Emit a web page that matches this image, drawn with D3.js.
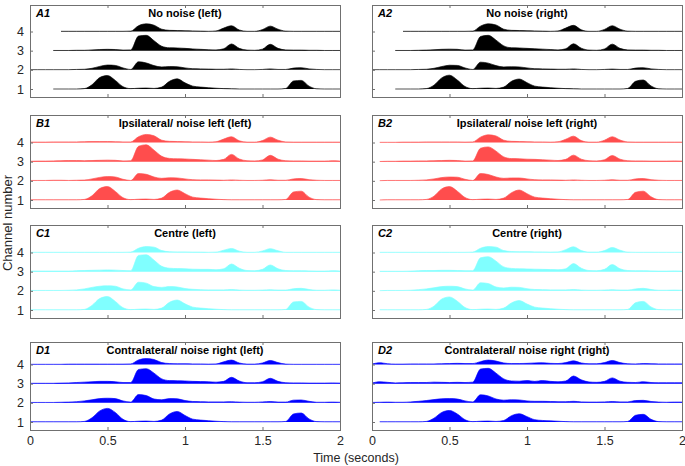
<!DOCTYPE html>
<html><head><meta charset="utf-8">
<script src="https://cdn.jsdelivr.net/npm/d3@7"></script>
<style>body{margin:0;background:#fff} svg{display:block} text{font-family:"Liberation Sans",Arial,sans-serif}</style>
</head><body><svg id="c" width="685" height="466"></svg>
<script>
const n = null;
const times = [0,0.05,0.1,0.15,0.2,0.25,0.3,0.35,0.4,0.45,0.5,0.55,0.6,0.65,0.7,0.75,0.8,0.85,0.9,0.95,1.0,1.05,1.1,1.15,1.2,1.25,1.3,1.35,1.4,1.45,1.5,1.55,1.6,1.65,1.7,1.75,1.8,1.85,1.9,1.95,2.0];
const channels = [1,2,3,4];
const channelLabels = ["1","2","3","4"];
const xTicks = [0,0.5,1,1.5,2];
const xTickLabels = ["0","0.5","1","1.5","2"];
const panelIds = ["A1","A2","B1","B2","C1","C2","D1","D2"];
const panelTitles = ["No noise (left)","No noise (right)","Ipsilateral/ noise left (left)","Ipsilateral/ noise left (right)","Centre (left)","Centre (right)","Contralateral/ noise right (left)","Contralateral/ noise right (right)"];
const panelColors = ["#000000","#000000","#ff4d4d","#ff4d4d","#80ffff","#80ffff","#0000ff","#0000ff"];

const A1_ch1 = [n,n,n,0,0,0,0,0.02,0.22,0.6,0.7,0.45,0.12,0.02,0.04,0.05,0.03,0.1,0.4,0.53,0.32,0.15,0.1,0.07,0.04,0.02,0.01,0,0,0,0,0,0,0.03,0.42,0.45,0.15,0.01,0,0,0];
const A1_ch2 = [0.01,0.01,0.01,0.01,0.01,0.01,0.02,0.03,0.08,0.18,0.25,0.23,0.1,0.02,0.42,0.36,0.22,0.15,0.17,0.16,0.1,0.06,0.05,0.04,0.03,0.03,0.05,0.02,0.01,0.01,0.02,0.05,0.02,0.02,0.09,0.11,0.05,0.02,0.01,0.01,0.01];
const A1_ch3 = [n,n,n,0.01,0.01,0.01,0.02,0.02,0.04,0.06,0.07,0.06,0.03,0.04,0.76,0.8,0.52,0.23,0.15,0.14,0.12,0.09,0.07,0.05,0.04,0.1,0.35,0.12,0.03,0.02,0.08,0.33,0.12,0.04,0.03,0.03,0.02,0.02,0.01,0.01,0.01];
const A1_ch4 = [n,n,n,n,0.01,0.01,0.01,0.01,0.01,0.01,0.01,0.01,0.01,0.02,0.3,0.4,0.33,0.12,0.06,0.05,0.04,0.03,0.02,0.01,0.03,0.18,0.3,0.08,0.01,0.01,0.1,0.28,0.12,0.02,0.01,0.01,0.01,0.01,0.01,0.01,0.01];

const A2_ch1 = [n,n,n,0,0,0,0,0.02,0.2,0.58,0.72,0.47,0.13,0.02,0.04,0.05,0.03,0.1,0.4,0.52,0.33,0.15,0.1,0.07,0.04,0.02,0.01,0,0,0,0,0,0,0.03,0.4,0.47,0.16,0.01,0,0,0];
const A2_ch2 = [0.01,0.01,0.01,0.01,0.01,0.01,0.02,0.03,0.08,0.17,0.24,0.23,0.1,0.02,0.4,0.35,0.22,0.15,0.16,0.15,0.1,0.06,0.05,0.04,0.03,0.03,0.05,0.02,0.01,0.01,0.02,0.04,0.02,0.02,0.09,0.11,0.05,0.02,0.01,0.01,0.01];
const A2_ch3 = [n,n,n,0.01,0.01,0.01,0.02,0.03,0.05,0.07,0.08,0.07,0.03,0.04,0.74,0.8,0.55,0.25,0.15,0.14,0.12,0.1,0.08,0.06,0.04,0.1,0.36,0.13,0.03,0.02,0.09,0.34,0.12,0.04,0.03,0.03,0.02,0.02,0.01,0.01,0.01];
const A2_ch4 = [n,n,n,n,0.01,0.01,0.01,0.01,0.01,0.01,0.01,0.01,0.01,0.02,0.28,0.4,0.34,0.12,0.06,0.05,0.04,0.03,0.02,0.01,0.03,0.18,0.32,0.09,0.01,0.01,0.11,0.3,0.12,0.02,0.01,0.01,0.01,0.01,0.01,0.01,0.01];

const B1_ch1 = [0.01,0.01,0.01,0.01,0.01,0.01,0.01,0.03,0.22,0.6,0.7,0.45,0.12,0.02,0.04,0.05,0.03,0.1,0.4,0.52,0.33,0.15,0.1,0.07,0.04,0.02,0.01,0.01,0.01,0.01,0.01,0.01,0.01,0.03,0.42,0.46,0.15,0.02,0.01,0.01,0.01];
const B1_ch2 = [0.02,0.02,0.02,0.03,0.03,0.02,0.03,0.04,0.1,0.18,0.22,0.2,0.08,0.02,0.38,0.34,0.2,0.13,0.16,0.15,0.1,0.06,0.05,0.05,0.04,0.03,0.05,0.03,0.02,0.02,0.03,0.06,0.03,0.03,0.1,0.12,0.06,0.03,0.02,0.02,0.02];
const B1_ch3 = [0.02,0.03,0.03,0.04,0.05,0.06,0.06,0.05,0.06,0.07,0.08,0.07,0.04,0.05,0.8,0.88,0.6,0.28,0.17,0.15,0.14,0.12,0.1,0.08,0.06,0.12,0.38,0.14,0.05,0.04,0.09,0.33,0.13,0.05,0.04,0.04,0.03,0.03,0.03,0.05,0.03];
const B1_ch4 = [0.02,0.02,0.02,0.03,0.03,0.03,0.03,0.04,0.05,0.05,0.05,0.04,0.03,0.03,0.3,0.42,0.35,0.12,0.06,0.05,0.04,0.03,0.03,0.02,0.04,0.18,0.3,0.09,0.02,0.02,0.1,0.28,0.12,0.03,0.02,0.02,0.02,0.02,0.02,0.02,0.02];

const B2_ch1 = [n,0,0.01,0.01,0.01,0.01,0.01,0.03,0.2,0.58,0.7,0.46,0.13,0.02,0.04,0.05,0.03,0.1,0.38,0.52,0.33,0.15,0.1,0.07,0.04,0.02,0.01,0.01,0.01,0.01,0.01,0.01,0.01,0.03,0.4,0.46,0.17,0.02,0.01,0.01,0.01];
const B2_ch2 = [n,0.01,0.02,0.02,0.02,0.02,0.03,0.05,0.1,0.17,0.2,0.19,0.08,0.02,0.38,0.33,0.2,0.13,0.15,0.15,0.1,0.06,0.05,0.05,0.04,0.03,0.05,0.03,0.02,0.02,0.03,0.06,0.03,0.03,0.1,0.12,0.06,0.03,0.02,0.02,0.02];
const B2_ch3 = [n,0.01,0.02,0.02,0.03,0.03,0.04,0.04,0.05,0.06,0.07,0.06,0.03,0.04,0.7,0.77,0.55,0.25,0.16,0.15,0.13,0.12,0.1,0.08,0.06,0.12,0.34,0.13,0.05,0.04,0.1,0.32,0.13,0.05,0.04,0.04,0.03,0.03,0.03,0.04,0.03];
const B2_ch4 = [n,0.01,0.01,0.01,0.02,0.02,0.02,0.03,0.03,0.03,0.03,0.03,0.02,0.03,0.28,0.4,0.34,0.12,0.06,0.05,0.04,0.03,0.03,0.02,0.04,0.17,0.33,0.1,0.02,0.02,0.12,0.3,0.13,0.03,0.02,0.02,0.02,0.02,0.02,0.02,0.02];

const C1_ch1 = [0.01,0.01,0.01,0.01,0.01,0.01,0.01,0.03,0.24,0.6,0.7,0.45,0.12,0.02,0.04,0.05,0.03,0.1,0.4,0.52,0.32,0.15,0.1,0.07,0.04,0.02,0.01,0.01,0.01,0.01,0.01,0.01,0.01,0.03,0.42,0.45,0.15,0.02,0.01,0.01,0.01];
const C1_ch2 = [0.02,0.02,0.02,0.02,0.02,0.03,0.05,0.1,0.18,0.24,0.26,0.24,0.1,0.05,0.45,0.4,0.22,0.18,0.22,0.2,0.12,0.08,0.06,0.05,0.05,0.05,0.07,0.04,0.03,0.03,0.04,0.06,0.04,0.04,0.11,0.13,0.07,0.03,0.03,0.05,0.03];
const C1_ch3 = [0.03,0.03,0.03,0.03,0.03,0.03,0.05,0.06,0.07,0.08,0.09,0.08,0.06,0.05,0.85,0.88,0.6,0.28,0.18,0.16,0.15,0.13,0.12,0.12,0.1,0.15,0.4,0.18,0.06,0.05,0.12,0.35,0.15,0.06,0.05,0.05,0.04,0.03,0.03,0.05,0.03];
const C1_ch4 = [0.01,0.01,0.01,0.01,0.01,0.01,0.01,0.01,0.01,0.01,0.01,0.01,0.01,0.02,0.22,0.31,0.28,0.1,0.04,0.03,0.03,0.02,0.02,0.01,0.02,0.12,0.21,0.07,0.01,0.01,0.08,0.2,0.09,0.01,0.01,0.01,0.01,0.01,0.01,0.01,0.01];

const C2_ch1 = [n,0.01,0.01,0.01,0.01,0.01,0.01,0.03,0.2,0.57,0.68,0.46,0.13,0.02,0.04,0.05,0.03,0.1,0.37,0.49,0.31,0.15,0.1,0.07,0.04,0.02,0.01,0.01,0.01,0.01,0.01,0.01,0.01,0.03,0.38,0.45,0.16,0.02,0.01,0.01,0.01];
const C2_ch2 = [n,0.01,0.02,0.02,0.02,0.03,0.06,0.1,0.16,0.22,0.24,0.22,0.1,0.04,0.42,0.38,0.2,0.15,0.19,0.18,0.11,0.07,0.06,0.05,0.05,0.05,0.07,0.04,0.03,0.03,0.04,0.06,0.04,0.04,0.1,0.13,0.07,0.03,0.03,0.04,0.03];
const C2_ch3 = [n,0.02,0.02,0.02,0.02,0.03,0.05,0.06,0.06,0.07,0.07,0.06,0.05,0.05,0.72,0.78,0.55,0.25,0.17,0.15,0.14,0.13,0.12,0.11,0.1,0.15,0.42,0.18,0.06,0.05,0.12,0.37,0.15,0.06,0.05,0.05,0.04,0.03,0.03,0.04,0.03];
const C2_ch4 = [n,0.01,0.01,0.01,0.01,0.01,0.01,0.01,0.01,0.01,0.01,0.01,0.01,0.02,0.22,0.31,0.28,0.1,0.05,0.04,0.04,0.03,0.03,0.02,0.03,0.15,0.3,0.1,0.02,0.02,0.1,0.26,0.12,0.02,0.01,0.01,0.01,0.01,0.01,0.01,0.01];

const D1_ch1 = [0.01,0.01,0.01,0.01,0.01,0.01,0.01,0.03,0.22,0.58,0.71,0.5,0.14,0.02,0.04,0.05,0.03,0.1,0.42,0.55,0.34,0.15,0.1,0.07,0.04,0.02,0.01,0.01,0.01,0.01,0.01,0.01,0.01,0.03,0.42,0.47,0.16,0.02,0.01,0.01,0.01];
const D1_ch2 = [0.02,0.02,0.02,0.02,0.03,0.04,0.06,0.1,0.16,0.22,0.24,0.22,0.1,0.04,0.43,0.38,0.2,0.16,0.22,0.21,0.12,0.07,0.06,0.05,0.05,0.05,0.06,0.04,0.03,0.03,0.05,0.07,0.04,0.04,0.14,0.15,0.08,0.03,0.03,0.04,0.03];
const D1_ch3 = [0.02,0.02,0.02,0.02,0.03,0.04,0.06,0.08,0.1,0.12,0.12,0.1,0.06,0.06,0.74,0.78,0.55,0.25,0.16,0.15,0.14,0.12,0.11,0.1,0.08,0.12,0.33,0.14,0.05,0.05,0.1,0.28,0.12,0.05,0.04,0.04,0.03,0.03,0.03,0.04,0.03];
const D1_ch4 = [0.01,0.01,0.01,0.01,0.01,0.02,0.02,0.02,0.02,0.02,0.02,0.02,0.02,0.03,0.24,0.31,0.26,0.1,0.05,0.04,0.04,0.03,0.03,0.02,0.03,0.14,0.23,0.08,0.02,0.02,0.08,0.21,0.1,0.02,0.01,0.01,0.01,0.01,0.01,0.01,0.01];

const D2_ch1 = [n,0.01,0.01,0.01,0.01,0.01,0.01,0.03,0.2,0.5,0.6,0.42,0.12,0.02,0.04,0.05,0.03,0.08,0.33,0.43,0.28,0.12,0.08,0.06,0.04,0.02,0.01,0.01,0.01,0.01,0.01,0.01,0.01,0.03,0.35,0.4,0.14,0.02,0.01,0.01,0.01];
const D2_ch2 = [0.02,0.03,0.04,0.03,0.03,0.05,0.08,0.12,0.17,0.21,0.22,0.2,0.1,0.05,0.42,0.36,0.2,0.14,0.16,0.15,0.1,0.08,0.08,0.07,0.06,0.06,0.08,0.05,0.04,0.04,0.05,0.07,0.05,0.05,0.12,0.13,0.07,0.04,0.03,0.04,0.04];
const D2_ch3 = [0.03,0.1,0.07,0.04,0.05,0.06,0.06,0.06,0.08,0.07,0.06,0.07,0.06,0.08,0.76,0.8,0.55,0.25,0.14,0.13,0.16,0.12,0.16,0.12,0.1,0.14,0.4,0.2,0.09,0.07,0.12,0.3,0.13,0.07,0.06,0.1,0.06,0.05,0.05,0.05,0.05];
const D2_ch4 = [0.02,0.09,0.04,0.02,0.02,0.03,0.03,0.03,0.03,0.04,0.05,0.06,0.05,0.05,0.15,0.23,0.18,0.08,0.05,0.05,0.06,0.08,0.09,0.06,0.05,0.1,0.19,0.08,0.04,0.04,0.1,0.21,0.1,0.04,0.03,0.05,0.04,0.03,0.03,0.03,0.03];

const panelSeries = [
  [A1_ch1,A1_ch2,A1_ch3,A1_ch4],[A2_ch1,A2_ch2,A2_ch3,A2_ch4],
  [B1_ch1,B1_ch2,B1_ch3,B1_ch4],[B2_ch1,B2_ch2,B2_ch3,B2_ch4],
  [C1_ch1,C1_ch2,C1_ch3,C1_ch4],[C2_ch1,C2_ch2,C2_ch3,C2_ch4],
  [D1_ch1,D1_ch2,D1_ch3,D1_ch4],[D2_ch1,D2_ch2,D2_ch3,D2_ch4]
];
panelSeries.forEach((p,i)=>p.forEach((s,j)=>{ if(s.length!==times.length) throw new Error(panelIds[i]+" ch"+(j+1)+" length "+s.length); }));

// layout
const colX = [[30,340],[372,682]];
const rowY = [[5,97],[115,208],[225,318],[342,430]];
const svg = d3.select("#c");
const frameColor = "#707070";
const textColor = "#262626";
const fontFam = '"Liberation Sans",Arial,sans-serif';

panelIds.forEach((id,pi)=>{
  const col = pi%2, row = Math.floor(pi/2);
  const [x0,x1] = colX[col], [yt,yb] = rowY[row];
  const x = d3.scaleLinear().domain([0,2]).range([x0,x1]);
  const y = d3.scaleLinear().domain([1,4]).range([yb-8,yb-8-57.5]);
  const g = svg.append("g");
  const clipId = "clip"+id;
  g.append("clipPath").attr("id",clipId).append("rect").attr("x",x0).attr("y",yt).attr("width",x1-x0).attr("height",yb-yt);
  const plot = g.append("g").attr("clip-path",`url(#${clipId})`);
  const color = panelColors[pi];
  channels.forEach((c,ci)=>{
    const data = times.map((t,k)=>({t, v: panelSeries[pi][ci][k]}));
    const area = d3.area().defined(d=>d.v!=null).x(d=>x(d.t)).y0(y(c)).y1(d=>y(c+d.v)).curve(d3.curveMonotoneX);
    const line = d3.line().defined(d=>d.v!=null).x(d=>x(d.t)).y(d=>y(c+d.v)).curve(d3.curveMonotoneX);
    plot.append("path").attr("d",area(data)).attr("fill",color);
    plot.append("path").attr("d",line(data)).attr("fill","none").attr("stroke",color).attr("stroke-width",0.8).attr("opacity",0.85);
  });
  // frame
  g.append("rect").attr("x",x0).attr("y",yt).attr("width",x1-x0).attr("height",yb-yt).attr("fill","none").attr("stroke",frameColor).attr("stroke-width",1).attr("shape-rendering","crispEdges");
  // ticks
  const xa = d3.axisBottom(x).tickValues(xTicks.slice(1,-1)).tickSize(-3).tickFormat("");
  const xaTop = d3.axisTop(x).tickValues(xTicks.slice(1,-1)).tickSize(-3).tickFormat("");
  const gb = g.append("g").attr("transform",`translate(0,${yb})`).call(xa);
  const gt = g.append("g").attr("transform",`translate(0,${yt})`).call(xaTop);
  const ya = d3.axisLeft(y).tickValues(channels).tickSize(-3).tickFormat((d,i)=> col===0 ? channelLabels[i] : "").tickPadding(6);
  const gl = g.append("g").attr("transform",`translate(${x0},0)`).call(ya);
  [gb,gt,gl].forEach(a=>{ a.select(".domain").remove(); a.selectAll("line").attr("stroke",frameColor); });
  gl.selectAll("text").attr("fill",textColor).attr("font-size",12.5).style("font-family",fontFam);
  if(row===3){
    const xl = d3.axisBottom(x).tickValues(xTicks).tickSize(0).tickPadding(6).tickFormat((d,i)=>xTickLabels[i]);
    const gx = g.append("g").attr("transform",`translate(0,${yb})`).call(xl);
    gx.select(".domain").remove();
    gx.selectAll("text").attr("fill",textColor).attr("font-size",12.5).style("font-family",fontFam);
  }
  // titles
  g.append("text").attr("x",(x0+x1)/2).attr("y",yt+11.5).attr("text-anchor","middle").attr("font-weight","bold").attr("font-size",11).attr("fill","#000").text(panelTitles[pi]);
  g.append("text").attr("x",x0+6).attr("y",yt+11.5).attr("font-weight","bold").attr("font-style","italic").attr("font-size",11).attr("fill","#000").text(id);
});

svg.append("text").attr("x",356).attr("y",462).attr("text-anchor","middle").attr("font-size",12.5).attr("fill",textColor).text("Time (seconds)");
svg.append("text").attr("transform","translate(12,223) rotate(-90)").attr("text-anchor","middle").attr("font-size",13).attr("fill",textColor).text("Channel number");
</script></body></html>
